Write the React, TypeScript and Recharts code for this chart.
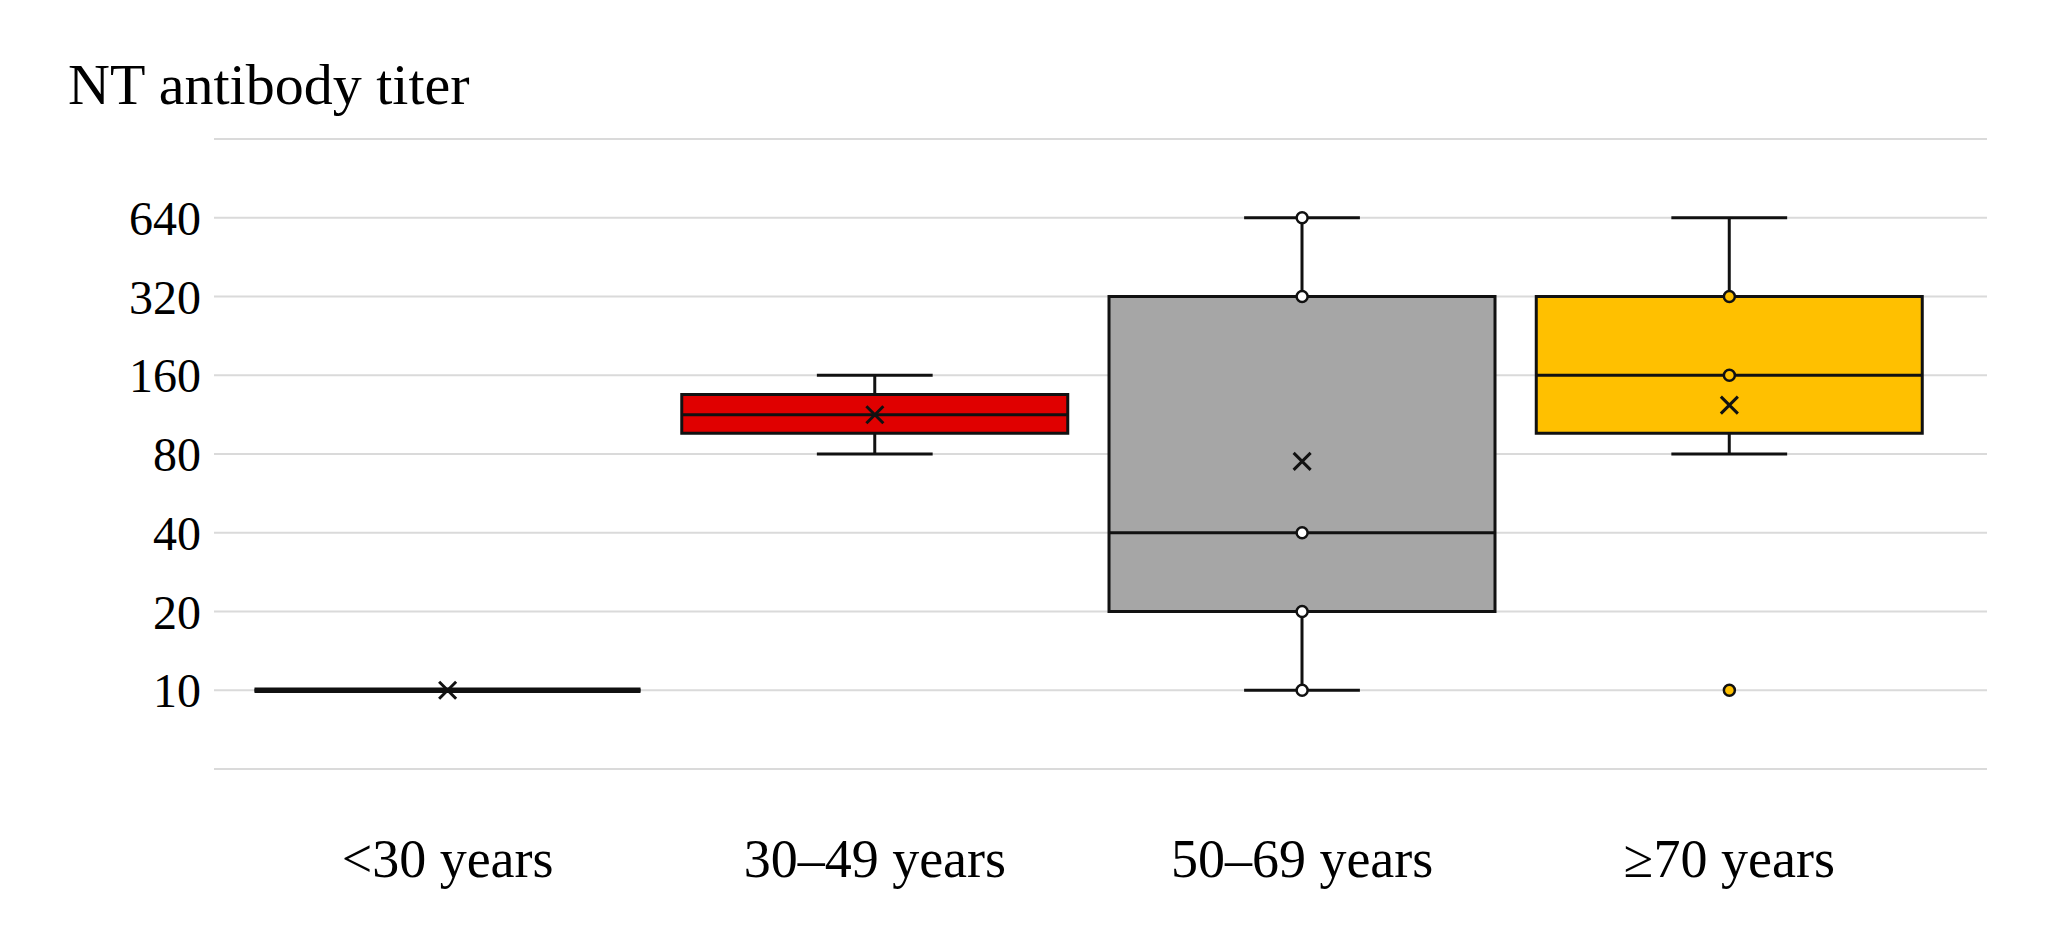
import { ComposedChart, Bar, Line, XAxis, YAxis, CartesianGrid } from 'recharts'

const categories = ['<30 years', '30–49 years', '50–69 years', '≥70 years']
const whiskerLow = [10, 80, 10, 80]
const q1 = [10, 96, 20, 96]
const medians = [10, 113, 40, 160]
const q3 = [10, 135, 320, 320]
const whiskerHigh = [10, 160, 640, 640]
const means = [10, 113, 75, 123]
// individual values drawn as small circles (incl. the outlier at 10 for ≥70)
const shownPoints: number[][] = [[], [], [640, 320, 40, 20, 10], [320, 160, 10]]

const yTicks = [5, 10, 20, 40, 80, 160, 320, 640, 1280]
const yLabels = ['', '10', '20', '40', '80', '160', '320', '640', '']

const boxColors = ['#E00000', '#E00000', '#A6A6A6', '#FFC000']
const pointFills = ['#FFFFFF', '#FFFFFF', '#FFFFFF', '#FFC000']

const INK = '#111111'
const LW = 3
const FONT = '"Liberation Serif", "Times New Roman", serif'
const padX = { left: 20, right: 44 }

const maxPoints = Math.max(...shownPoints.map(p => p.length))

const chartData = categories.map((cat, i) => {
    const row: Record<string, unknown> = {
        cat,
        whisker: [whiskerLow[i], whiskerHigh[i]],
        box: [q1[i], q3[i]],
        median: [medians[i], medians[i]],
        mean: means[i],
    }
    for (let k = 0; k < maxPoints; k++) row['p' + k] = shownPoints[i][k] ?? null
    return row
})

const WhiskerShape = (props: any) => {
    const { x, y, width, height } = props
    const cx = x + width / 2
    const cap = width * 0.3
    const top = Math.min(y, y + height)
    const bottom = Math.max(y, y + height)
    return (
        <g>
            <line x1={cx} x2={cx} y1={top} y2={bottom} stroke={INK} strokeWidth={LW} />
            <line x1={cx - cap / 2} x2={cx + cap / 2} y1={top} y2={top} stroke={INK} strokeWidth={LW} />
            <line x1={cx - cap / 2} x2={cx + cap / 2} y1={bottom} y2={bottom} stroke={INK} strokeWidth={LW} />
        </g>
    )
}

const BoxShape = (props: any) => {
    const { x, y, width, height, index } = props
    const top = Math.min(y, y + height)
    const bottom = Math.max(y, y + height)
    const flat = bottom - top < 0.5
    return (
        <path
            d={`M${x},${top}H${x + width}V${bottom}H${x}Z`}
            fill={boxColors[index]}
            stroke={INK}
            strokeWidth={flat ? 5.5 : LW}
            strokeLinejoin="miter"
        />
    )
}

const MedianShape = (props: any) => {
    const { x, y, width } = props
    return <line x1={x} x2={x + width} y1={y} y2={y} stroke={INK} strokeWidth={LW} />
}

const PointDot = (props: any) => {
    const { cx, cy, index, value, dataKey } = props
    const key = `${dataKey}-${index}`
    if (value == null || cy == null || Number.isNaN(cy)) return <g key={key} />
    return <circle key={key} cx={cx} cy={cy} r={5.5} fill={pointFills[index]} stroke={INK} strokeWidth={2.5} />
}

const MeanCross = (props: any) => {
    const { cx, cy, index } = props
    const s = 8.5
    return (
        <path
            key={`mean-${index}`}
            d={`M${cx - s},${cy - s}L${cx + s},${cy + s}M${cx + s},${cy - s}L${cx - s},${cy + s}`}
            stroke={INK}
            strokeWidth={LW}
            fill="none"
        />
    )
}

export default function App() {
    return (
        <div style={{ position: 'absolute', left: 0, top: 0, width: 2061, height: 926, background: '#fff' }}>
            <div
                style={{
                    position: 'absolute',
                    left: 68,
                    top: 56,
                    fontFamily: FONT,
                    fontSize: 58,
                    lineHeight: 1,
                    color: '#000',
                    whiteSpace: 'nowrap',
                }}
            >
                NT antibody titer
            </div>
            <ComposedChart
                width={2061}
                height={926}
                data={chartData}
                margin={{ top: 139, right: 74, left: 64, bottom: 37 }}
                barCategoryGap="4.8%"
            >
                <CartesianGrid vertical={false} stroke="#DADADA" strokeWidth={2} xAxisId="main" />
                <XAxis
                    xAxisId="main"
                    dataKey="cat"
                    padding={padX}
                    axisLine={false}
                    tickLine={false}
                    tickSize={0}
                    tickMargin={40}
                    height={120}
                    interval={0}
                    tick={{ fill: '#000', fontSize: 54, fontFamily: FONT }}
                />
                <XAxis xAxisId="box" dataKey="cat" padding={padX} hide />
                <XAxis xAxisId="med" dataKey="cat" padding={padX} hide />
                <YAxis
                    type="number"
                    scale="log"
                    domain={[5, 1280]}
                    ticks={yTicks}
                    allowDataOverflow
                    interval={0}
                    tickFormatter={(v: number) => yLabels[yTicks.indexOf(v)] ?? ''}
                    axisLine={false}
                    tickLine={false}
                    tickSize={0}
                    tickMargin={13}
                    width={150}
                    tick={{ fill: '#000', fontSize: 48, fontFamily: FONT }}
                />
                <Bar xAxisId="main" dataKey="whisker" shape={<WhiskerShape />} isAnimationActive={false} />
                <Bar xAxisId="box" dataKey="box" shape={<BoxShape />} isAnimationActive={false} />
                <Bar xAxisId="med" dataKey="median" shape={<MedianShape />} isAnimationActive={false} />
                {Array.from({ length: maxPoints }, (_, k) => (
                    <Line
                        key={'p' + k}
                        xAxisId="main"
                        dataKey={'p' + k}
                        stroke="none"
                        dot={<PointDot />}
                        activeDot={false}
                        isAnimationActive={false}
                    />
                ))}
                <Line
                    xAxisId="main"
                    dataKey="mean"
                    stroke="none"
                    dot={<MeanCross />}
                    activeDot={false}
                    isAnimationActive={false}
                />
            </ComposedChart>
        </div>
    )
}
